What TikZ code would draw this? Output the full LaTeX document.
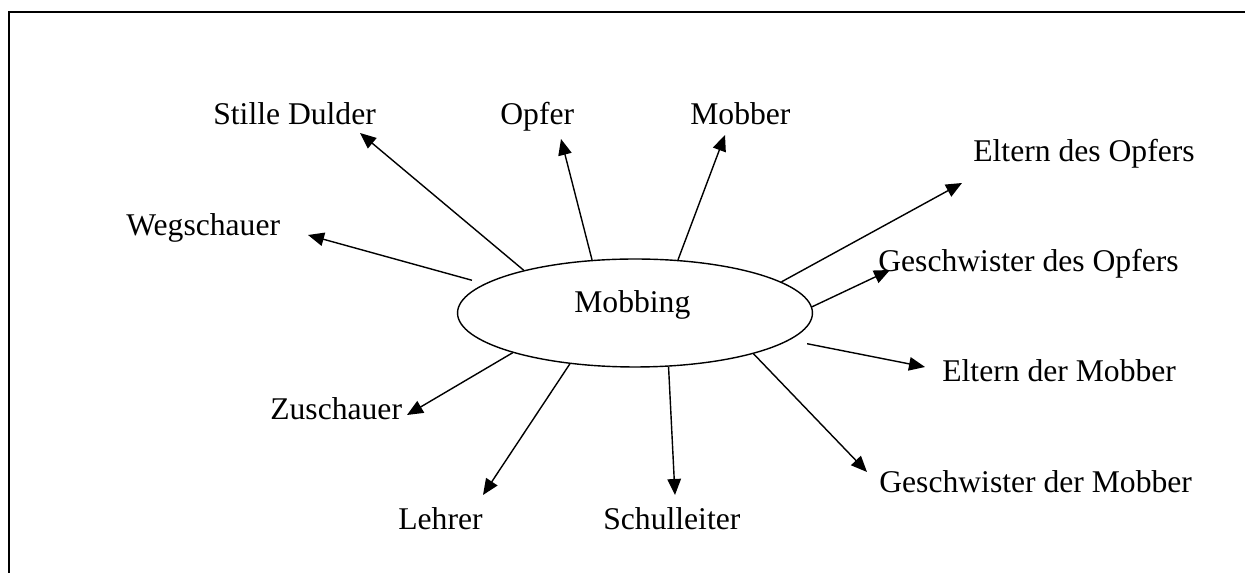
\documentclass[tikz,border=0pt]{standalone}
\usepackage{fontspec}
\setmainfont{Liberation Serif}
\usetikzlibrary{shapes, arrows.meta}
\tikzstyle{every node}=[font=\fontsize{18}{21}\selectfont]
\tikzstyle{role}=[inner sep=0pt, anchor=base west]
\tikzstyle{link}=[->, line width=0.8pt]

\begin{document}
\begin{tikzpicture}[x=0.02cm, y=-0.02cm, >={Triangle[length=0.32cm, width=0.27cm]}]
    \useasboundingbox (0,0) rectangle (1245,573);
    \draw[line width=1.1pt] (9,573) -- (9,12) -- (1245,12);
    \node[draw, ellipse, line width=0.8pt, minimum width=7.1cm, minimum height=2.16cm] (m) at (635,313) {};
    \node[role] (mtext) at (574,313) {Mobbing};
    \node[role] (sd) at (213,125) {Stille Dulder};
    \node[role] (weg) at (126,236) {Wegschauer};
    \node[role] (opf) at (500,125) {Opfer};
    \node[role] (mobber) at (690,125) {Mobber};
    \node[role] (eo) at (973,162) {Eltern des Opfers};
    \node[role] (go) at (878,272) {Geschwister des Opfers};
    \node[role] (em) at (942,382) {Eltern der Mobber};
    \node[role] (gm) at (879,493) {Geschwister der Mobber};
    \node[role] (sl) at (603,530) {Schulleiter};
    \node[role] (leh) at (398,530) {Lehrer};
    \node[role] (zu) at (270,420) {Zuschauer};
    % arrow tips
    \coordinate (tsd) at (360,133);
    \coordinate (tweg) at (308,235);
    \coordinate (topf) at (561,139);
    \coordinate (tmobber) at (725,135);
    \coordinate (teo) at (962,183);
    \coordinate (tgo) at (890,270);
    \coordinate (tem) at (925,367);
    \coordinate (tgm) at (867,472);
    \coordinate (tsl) at (675,495);
    \coordinate (tleh) at (483,495);
    \coordinate (tzu) at (407,415);
    \draw[link] (m.159) -- (tsd);
    \draw[link, shorten <=0.26cm] (m.169) -- (tweg);
    \draw[link] (m.129) -- (topf);
    \draw[link] (m.51) -- (tmobber);
    \draw[link] (m.12.6) -- (teo);
    \draw[link] (m.2) -- (tgo);
    \draw[link, shorten <=0.36cm] (m.-10.8) -- (tem);
    \draw[link] (m.-19.5) -- (tgm);
    \draw[link] (m.-58.6) -- (tsl);
    \draw[link] (m.-142) -- (tleh);
    \draw[link] (m.-162) -- (tzu);
\end{tikzpicture}
\end{document}
